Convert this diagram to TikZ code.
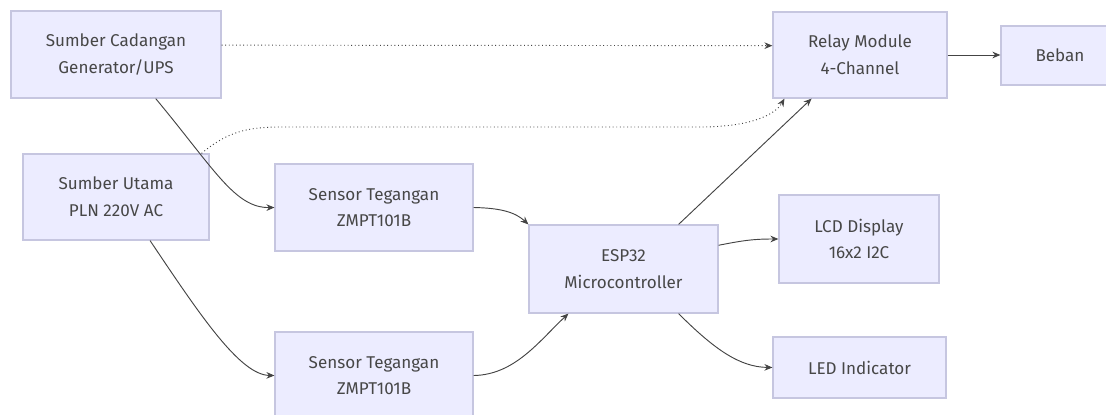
\documentclass[tikz,border=0pt]{standalone}
\usepackage{fontspec}
\setmainfont{Fira Sans}
\usetikzlibrary{arrows.meta}
\definecolor{blokfill}{HTML}{ECECFF}
\definecolor{blokline}{HTML}{C6C6E0}
\definecolor{garis}{HTML}{444444}

\begin{document}
\begin{tikzpicture}[x=0.75pt,y=-0.75pt,
        blok/.style={draw=blokline,fill=blokfill,line width=0.9pt,align=center,inner sep=0pt,font=\fontsize{12.8}{20}\selectfont,text=black!72},
        panah/.style={draw=garis,line width=0.7pt,-{Stealth[length=6pt,width=5pt]}},
        putus/.style={panah,dotted}]
        \useasboundingbox (0,0) rectangle (1106,414);
        \node[blok,minimum width=210*0.75pt,minimum height=87*0.75pt] (cad) at (116,54.5) {Sumber Cadangan\\Generator/UPS};
        \node[blok,minimum width=186*0.75pt,minimum height=86*0.75pt] (pln) at (116,197) {Sumber Utama\\PLN 220V AC};
        \node[blok,minimum width=198*0.75pt,minimum height=87*0.75pt] (sen1) at (374,207.5) {Sensor Tegangan\\ZMPT101B};
        \node[blok,minimum width=198*0.75pt,minimum height=87*0.75pt] (sen2) at (374,375.5) {Sensor Tegangan\\ZMPT101B};
        \node[blok,minimum width=189*0.75pt,minimum height=88*0.75pt] (esp) at (623.5,269) {ESP32\\Microcontroller};
        \node[blok,minimum width=174*0.75pt,minimum height=86*0.75pt] (relay) at (860,55) {Relay Module\\4-Channel};
        \node[blok,minimum width=118*0.75pt,minimum height=59*0.75pt] (beban) at (1060,55.5) {Beban};
        \node[blok,minimum width=160*0.75pt,minimum height=88*0.75pt] (lcd) at (859,239) {LCD Display\\16x2 I2C};
        \node[blok,minimum width=173*0.75pt,minimum height=61*0.75pt] (led) at (859.5,367.5) {LED Indicator};
        \draw[putus] ([yshift=7pt]cad.east) -- ([yshift=7pt]relay.west);
        \draw[putus] (pln.27) .. controls (235,125) and (260,127) .. (300,127) -- (700,127) .. controls (750,127) and (775,115) .. (relay.210);
        \draw[panah] (cad.312) .. controls (215,170) and (235,208) .. (sen1.west);
        \draw[panah] (pln.308) .. controls (200,315) and (240,375) .. (sen2.west);
        \draw[panah] (sen1.east) .. controls (500,208) and (515,212) .. (esp.north west);
        \draw[panah] (sen2.east) .. controls (515,375) and (540,340) .. (esp.219);
        \draw[panah] (esp.39) -- (relay.222);
        \draw[panah] (esp.14) .. controls (745,240) and (755,239) .. (lcd.west);
        \draw[panah] (esp.321) .. controls (715,350) and (740,367) .. (led.west);
        \draw[panah] (relay.east) -- (relay.east -| beban.west);
    \end{tikzpicture}
\end{document}
